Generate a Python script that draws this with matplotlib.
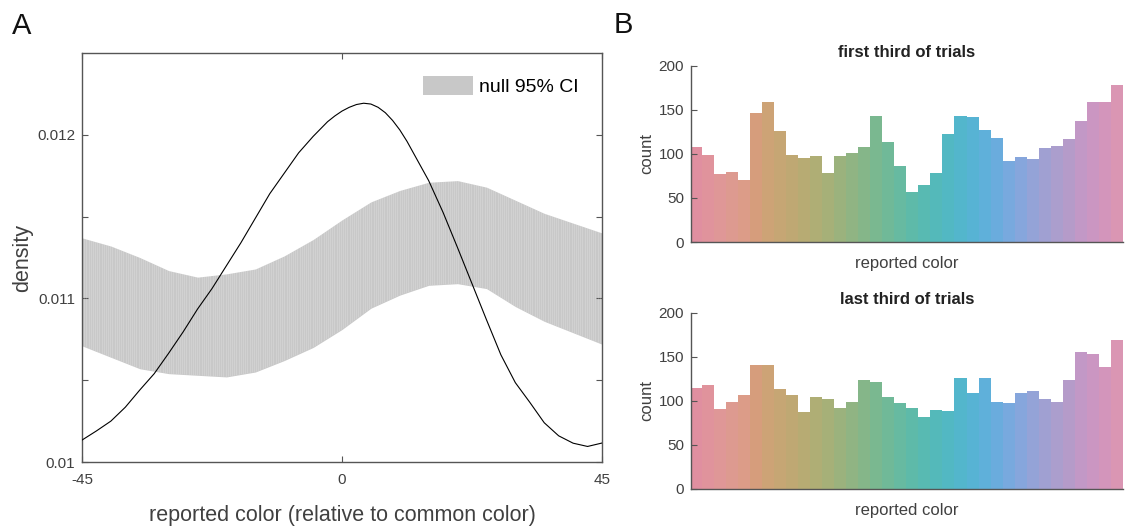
import numpy as np
import matplotlib
matplotlib.use("Agg")
import matplotlib.pyplot as plt
from matplotlib.patches import Patch

plt.rcParams['font.family'] = ['Liberation Sans', 'DejaVu Sans']

# panel A: observed density and null 95% CI band
curve_x = [-45, -42.5, -40, -37.5, -35, -32.5, -30, -27.5, -25, -22.5, -20, -17.5,
           -15, -12.5, -10, -7.5, -5, -2.5, -1.25, 0, 1.25, 2.5, 3.75, 5, 6.25, 7.5,
           8.75, 10, 11.25, 12.5, 15, 17.5, 20, 22.5, 25, 27.5, 30, 32.5, 35, 37.5,
           40, 42.5, 45]
curve_y = [0.010134, 0.01019, 0.01025, 0.010335, 0.01044, 0.01054, 0.010665, 0.010795,
           0.010935, 0.01106, 0.0112, 0.01134, 0.01149, 0.01164, 0.011765, 0.01189,
           0.01199, 0.01208, 0.012115, 0.012145, 0.012168, 0.012185, 0.012193, 0.012188,
           0.012168, 0.012135, 0.012088, 0.01203, 0.01196, 0.01188, 0.01172, 0.011525,
           0.01131, 0.01109, 0.01087, 0.010655, 0.010485, 0.010365, 0.01024, 0.01016,
           0.010115, 0.010095, 0.010116]

band_x = [-45, -40, -35, -30, -25, -20, -15, -10, -5, 0, 5, 10, 15, 20, 25, 30, 35, 40, 45]
band_hi = [0.01137, 0.01132, 0.01125, 0.01117, 0.01113, 0.01115, 0.01118, 0.01126, 0.01136,
           0.01148, 0.01159, 0.01166, 0.01171, 0.01172, 0.01168, 0.01160, 0.01152, 0.01146, 0.0114]
band_lo = [0.01071, 0.01064, 0.01057, 0.01054, 0.01053, 0.01052, 0.01055, 0.01062, 0.01070,
           0.01081, 0.01094, 0.01102, 0.01108, 0.01109, 0.01106, 0.01095, 0.01086, 0.01079, 0.01072]

# panel B: histogram counts per reported-colour bin
first_third = [108, 99, 77, 79, 70, 146, 159, 126, 99, 95, 97, 78, 98, 101, 108, 143, 113, 86,
               57, 65, 78, 122, 143, 142, 127, 118, 92, 96, 94, 107, 109, 117, 137, 159, 159, 178]
last_third = [115, 118, 91, 99, 107, 140, 140, 113, 106, 87, 104, 102, 92, 99, 124, 121, 104, 97,
              92, 82, 89, 88, 126, 109, 126, 99, 97, 109, 111, 102, 99, 124, 155, 153, 138, 169]
bar_colors = ['#e08fa0', '#e0939c', '#df9797', '#dd9a90', '#dc9c88', '#d69d7c', '#cda376',
              '#c6a674', '#bfa873', '#b7ab73', '#afae75', '#a6b078', '#9bb27d', '#90b483',
              '#85b689', '#7ab890', '#70b998', '#67baa1', '#5ebaa9', '#58bab2', '#54b9ba',
              '#52b8c3', '#53b6cc', '#57b3d4', '#5fb0da', '#6aacdd', '#78a9de', '#86a6dc',
              '#94a3d7', '#a0a0d2', '#ab9ecd', '#b59bc9', '#c298c6', '#cb96c2', '#d395bb',
              '#da96b3']

W, H = 1135, 527
fig = plt.figure(figsize=(W / 100, H / 100), dpi=100)

tick_col = '#404040'
spine_col = '#555555'

# ---- panel A
ax = fig.add_axes([82 / W, (H - 462) / H, 520 / W, 409 / H])
band = ax.fill_between(band_x, band_lo, band_hi, color='#c8c8c8', lw=0, zorder=1)
stripes = ax.vlines(np.linspace(-45, 45, 240), 0.01, 0.0125, colors='white',
                    lw=0.4, alpha=0.3, zorder=2)
stripes.set_clip_path(band.get_paths()[0], ax.transData)
ax.plot(curve_x, curve_y, color='black', lw=0.8, zorder=3)

ax.set_xlim(-45, 45)
ax.set_ylim(0.01, 0.0125)
ax.set_xticks([-45, 0, 45])
ax.set_xticklabels(['-45', '0', '45'])
ax.set_yticks([0.01, 0.0105, 0.011, 0.0115, 0.012])
ax.set_yticklabels(['0.01', '', '0.011', '', '0.012'])
ax.tick_params(direction='in', top=True, right=True, length=4, width=0.8,
               colors=spine_col, labelcolor=tick_col, labelsize=11)
ax.tick_params(axis='x', pad=8)
ax.tick_params(axis='y', pad=5)
for s in ax.spines.values():
    s.set_color(spine_col)
    s.set_linewidth(1.0)
ax.set_xlabel('reported color (relative to common color)', fontsize=15.5,
              color=tick_col, labelpad=13)
ax.set_ylabel('density', fontsize=15.5, color=tick_col, labelpad=3)
ax.legend(handles=[Patch(facecolor='#c8c8c8', edgecolor='none', label='null 95% CI')],
          loc='upper right', frameon=False, fontsize=14, handlelength=2.6,
          handleheight=1.1, handletextpad=0.3, borderaxespad=0.8)

# ---- panel B
def hist_panel(rect, counts, title):
    bx = fig.add_axes(rect)
    pos = np.arange(1, len(counts) + 1)
    bx.bar(pos, counts, width=1.0, color=bar_colors, edgecolor='none')
    bx.set_xlim(0.61, 36.5)
    bx.set_ylim(0, 200)
    bx.set_yticks([0, 50, 100, 150, 200])
    bx.set_xticks([])
    for side in ['top', 'right']:
        bx.spines[side].set_visible(False)
    for side in ['left', 'bottom']:
        bx.spines[side].set_color(spine_col)
        bx.spines[side].set_linewidth(1.0)
    bx.tick_params(direction='in', length=4, width=0.8, colors=spine_col,
                   labelcolor=tick_col, labelsize=11, pad=5)
    bx.set_xlabel('reported color', fontsize=12, color=tick_col, labelpad=10)
    bx.set_ylabel('count', fontsize=12, color=tick_col, labelpad=3)
    bx.set_title(title, fontsize=12, fontweight='bold', color='#222222', pad=6)
    return bx

hist_panel([691 / W, (H - 242) / H, 432 / W, 176.5 / H], first_third, 'first third of trials')
hist_panel([691 / W, (H - 489) / H, 432 / W, 176.5 / H], last_third, 'last third of trials')

fig.text(12 / W, 1 - 34 / H, 'A', fontsize=21, color='#111111', va='baseline',
         family=['Liberation Sans Narrow', 'Liberation Sans'])
fig.text(614 / W, 1 - 33 / H, 'B', fontsize=21, color='#111111', va='baseline',
         family=['Liberation Sans Narrow', 'Liberation Sans'])

fig.savefig('out.png', dpi=100)
